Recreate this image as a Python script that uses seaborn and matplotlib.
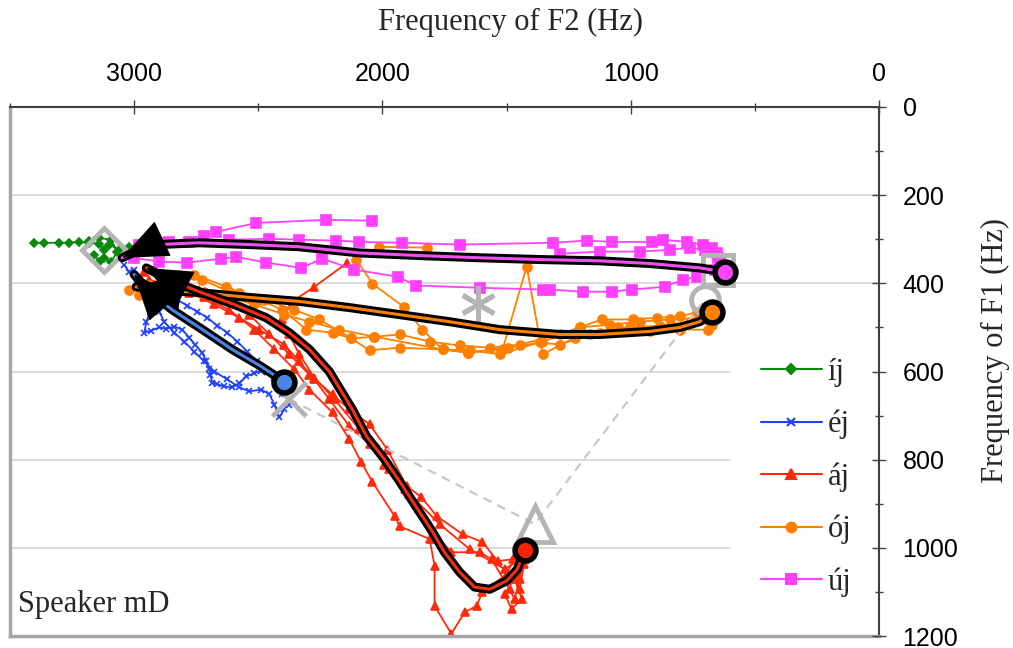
import matplotlib
matplotlib.use("Agg")
import matplotlib.pyplot as plt
import matplotlib.patheffects as pe
from matplotlib.lines import Line2D
from matplotlib.ticker import MultipleLocator
import pandas as pd
import seaborn as sns

VOWELS = ["íj", "éj", "áj", "ój", "új"]
COLORS = {"íj": "#0A8A0A", "éj": "#2040FF", "áj": "#FF2A0A", "ój": "#FF8000", "új": "#FF40FF"}
MARKERS = {"íj": "D", "éj": "x", "áj": "^", "ój": "o", "új": "s"}
MSIZE = {"íj": 4.5, "éj": 5, "áj": 6, "ój": 6.5, "új": 6.5}

# raw trials: F2 (Hz), F1 (Hz)
IJ_F2 = [[3403, 3363, 3302, 3262, 3222, 3181, 3141, 3121, 3101, 3060, 3020, 2980, 2939],
         [3181, 3141, 3093, 3068, 3093, 3121, 3141, 3161]]
IJ_F1 = [[308, 308, 308, 308, 306, 308, 310, 324, 312, 324, 317, 312, 310],
         [305, 297, 301, 328, 351, 342, 351, 335]]

EJ_F2 = [[2375, 2391, 2411, 2435, 2464, 2488, 2516, 2548, 2576, 2605, 2637, 2665, 2685, 2693, 2697, 2710,
          2726, 2754, 2778, 2806, 2838, 2871, 2899, 2931, 2959, 2951, 2935, 2947, 2964, 2988, 3020, 3040],
         [2403, 2431, 2464, 2504, 2544, 2584, 2625, 2665, 2705, 2746, 2786, 2826, 2867, 2907, 2939, 2972, 3000],
         [2395, 2415, 2435, 2455, 2488, 2536, 2576, 2625, 2677, 2718, 2758, 2798, 2838, 2879, 2899, 2931, 2959]]
EJ_F1 = [[675, 652, 632, 614, 602, 598, 604, 611, 627, 636, 634, 629, 625, 609, 595, 577,
          557, 539, 523, 505, 498, 503, 500, 507, 512, 487, 464, 441, 421, 401, 374, 358],
         [652, 629, 600, 577, 555, 532, 512, 496, 478, 464, 451, 437, 426, 414, 403, 387, 369],
         [686, 704, 675, 652, 641, 645, 636, 618, 600, 577, 555, 532, 512, 487, 464, 441, 414]]

AJ_F2 = [[1435, 1476, 1536, 1597, 1677, 1782, 1843, 1903, 1980, 2052, 2133, 2201, 2294, 2375, 2455, 2536,
          2637, 2738, 2859, 2959],
         [1447, 1500, 1597, 1621, 1669, 1722, 1790, 1790, 1810, 1931, 1951, 2040, 2085, 2133, 2201, 2294,
          2355, 2435, 2516, 2617, 2718, 2818, 2939],
         [1427, 1447, 1468, 1488, 1560, 1609, 1722, 1798, 1851, 1911, 1972, 2052, 2133, 2214, 2274, 2335,
          2395, 2496, 2576, 2677, 2778, 2899],
         [1439, 1508, 1649, 1770, 1891, 1992, 2093, 2193, 2274, 2335, 2375, 2403, 2363, 2274, 2141],
         [1427, 1447, 1468, 1439, 1480, 1508, 1456, 1431]]
AJ_F1 = [[992, 1026, 1030, 987, 969, 928, 885, 860, 777, 720, 686, 652, 607, 561, 516, 471,
          437, 414, 392, 374],
         [998, 1060, 1100, 1132, 1146, 1195, 1132, 1041, 980, 951, 928, 851, 806, 754, 693, 641,
          595, 550, 505, 460, 432, 410, 392],
         [1003, 1071, 1116, 1094, 1026, 1010, 1010, 962, 912, 867, 822, 765, 724, 663, 618, 577,
          539, 505, 478, 448, 421, 403],
         [1026, 1048, 1003, 946, 878, 811, 731, 663, 614, 561, 516, 482, 441, 408, 353],
         [1026, 1094, 1071, 1116, 1139, 1105, 1060, 1037]]

OJ_F2 = [[681, 734, 802, 895, 992, 1117, 1206, 1359, 1496, 1657, 1758, 1839, 1915, 2040, 2105, 2012, 1822],
         [673, 762, 883, 1004, 1125, 1226, 1355, 1419, 1516, 1657, 1758, 2032, 2125, 2201, 2306, 2403,
          2496, 2617, 2726, 2818, 2939, 3020],
         [689, 802, 923, 1052, 1165, 1286, 1367, 1528, 1649, 1758, 1931, 2052, 2125, 2254, 2355, 2476,
          2576, 2629, 2758, 2879, 2980],
         [673, 722, 843, 964, 1085, 1206, 1286, 1447, 1568, 1689, 1810, 1931, 2032, 2173, 2294, 2395,
          2516, 2617, 2718, 2838, 2939]]
OJ_F1 = [[478, 466, 475, 478, 482, 482, 500, 534, 546, 557, 550, 505, 453, 401, 346, 317, 319],
         [494, 487, 496, 500, 512, 523, 561, 362, 550, 557, 550, 521, 525, 512, 505, 460,
          437, 419, 392, 380, 403, 414],
         [505, 505, 509, 498, 516, 539, 534, 561, 552, 550, 546, 552, 525, 482, 460, 437,
          421, 408, 380, 396, 426],
         [464, 478, 482, 487, 494, 500, 516, 539, 546, 541, 532, 516, 521, 505, 487, 471,
          448, 432, 419, 414, 426]]

UJ_F2 = [[2040, 2226, 2508, 2669, 2718, 2859, 2980],
         [641, 653, 673, 710, 774, 871, 915, 1077, 1177, 1314, 1689, 1923, 2093, 2189, 2335, 2455,
          2617, 2778, 2899, 2980],
         [641, 661, 734, 790, 863, 996, 1077, 1193, 1327, 1355, 1609, 1863, 1939, 2113, 2242, 2326,
          2468, 2589, 2649, 2786, 2899, 3000],
         [649, 702, 762, 843, 964, 1125, 1286]]
UJ_F1 = [[258, 256, 263, 283, 292, 306, 319],
         [351, 331, 319, 312, 306, 301, 306, 306, 303, 308, 312, 308, 306, 303, 301, 299,
          301, 306, 308, 312],
         [380, 369, 385, 392, 408, 414, 419, 419, 414, 414, 410, 405, 385, 369, 344, 365,
          353, 340, 344, 353, 351, 342],
         [342, 324, 319, 324, 328, 328, 333]]

# mean trajectories (start -> end)
EJ_MEAN_F2 = [2395, 2496, 2605, 2738, 2847, 2939, 3000]
EJ_MEAN_F1 = [623, 586, 550, 500, 460, 419, 380]
AJ_MEAN_F2 = [1427, 1456, 1500, 1568, 1629, 1689, 1750, 1798, 1871, 1931, 1992, 2064, 2121, 2214,
              2294, 2375, 2468, 2597, 2738, 2859, 2951]
AJ_MEAN_F1 = [1005, 1048, 1075, 1094, 1089, 1055, 1010, 964, 901, 849, 799, 747, 686, 600,
              550, 512, 478, 448, 419, 392, 365]
OJ_MEAN_F2 = [673, 722, 802, 923, 1125, 1286, 1528, 1730, 1931, 2133, 2335, 2536, 2738, 2899, 2992]
OJ_MEAN_F1 = [466, 487, 500, 509, 516, 516, 505, 487, 471, 455, 441, 432, 421, 414, 408]
UJ_MEAN_F2 = [621, 722, 923, 1125, 1367, 1609, 1851, 2093, 2335, 2536, 2738, 2899, 2980, 3048]
UJ_MEAN_F1 = [374, 365, 355, 349, 346, 342, 337, 331, 317, 312, 308, 312, 324, 342]

# monophthong reference targets (grey)
TARGET_F2 = [3121, 2375, 1387, 702, 649, 1617]
TARGET_F1 = [324, 663, 946, 437, 369, 448]
TARGET_MARKERS = ["D", "x", "^", "o", "s", (6, 2, 0)]
TARGET_MS = [22, 24, 26, 20, 22, 26]
DASHED_IDX = [1, 2, 3]

sns.set_theme(style="white")
plt.rcParams["font.family"] = ["Liberation Sans", "DejaVu Sans"]
SERIF = ["Liberation Serif", "DejaVu Serif"]

rows = []
for vowel, f2s, f1s in zip(VOWELS, [IJ_F2, EJ_F2, AJ_F2, OJ_F2, UJ_F2], [IJ_F1, EJ_F1, AJ_F1, OJ_F1, UJ_F1]):
    for t, (xs, ys) in enumerate(zip(f2s, f1s)):
        for x, y in zip(xs, ys):
            rows.append((vowel, f"{vowel}{t}", x, y))
df = pd.DataFrame(rows, columns=["vowel", "trial", "F2", "F1"])

fig = plt.figure(figsize=(10.13, 6.48), dpi=100)
ax = fig.add_axes([10 / 1013, 12 / 648, 869 / 1013, 529 / 648])

for vowel in VOWELS:
    sub = df[df["vowel"] == vowel]
    c = COLORS[vowel]
    sns.lineplot(data=sub, x="F2", y="F1", units="trial", estimator=None, sort=False,
                 color=c, marker=MARKERS[vowel], markersize=MSIZE[vowel],
                 markeredgecolor=c, markerfacecolor=c, markeredgewidth=1.2,
                 lw=1.3, legend=False, ax=ax, zorder=2)

# grey targets and dashed connector
ax.plot([TARGET_F2[i] for i in DASHED_IDX], [TARGET_F1[i] for i in DASHED_IDX],
        ls=(0, (4, 3)), color="#C8C8C8", lw=1.6, zorder=3)
for x, y, m, ms in zip(TARGET_F2, TARGET_F1, TARGET_MARKERS, TARGET_MS):
    ax.plot([x], [y], marker=m, ms=ms, mfc="none", mec="#B4B4B4", mew=3.5, ls="none", zorder=4)

# mean trajectories with arrows
means = [
    (UJ_MEAN_F2, UJ_MEAN_F1, "#F050F0", "#FF44FF"),
    (OJ_MEAN_F2, OJ_MEAN_F1, "#FF8000", "#FF8000"),
    (AJ_MEAN_F2, AJ_MEAN_F1, "#F03010", "#FF2000"),
    (EJ_MEAN_F2, EJ_MEAN_F1, "#4A86E8", "#4A86E8"),
]
for f2, f1, col, fill in means:
    ax.plot(f2, f1, color=col, lw=2.2, solid_capstyle="round", zorder=5,
            path_effects=[pe.Stroke(linewidth=6.5, foreground="black"), pe.Normal()])
    ax.annotate("", xy=(f2[-1], f1[-1]), xytext=(f2[-2], f1[-2]), zorder=6,
                arrowprops=dict(arrowstyle="-|>,head_length=0.8,head_width=0.34",
                                mutation_scale=38, color="black", lw=1, shrinkA=0, shrinkB=0))
    ax.plot([f2[0]], [f1[0]], marker="o", ms=15, mfc=fill, mec="black", mew=4, zorder=7)

ax.set_xlim(3500, 0)
ax.set_ylim(1200, 0)
ax.xaxis.tick_top()
ax.xaxis.set_label_position("top")
ax.yaxis.tick_right()
ax.yaxis.set_label_position("right")
ax.xaxis.set_major_locator(MultipleLocator(1000))
ax.xaxis.set_minor_locator(MultipleLocator(500))
ax.yaxis.set_major_locator(MultipleLocator(200))
ax.yaxis.set_minor_locator(MultipleLocator(100))
ax.tick_params(which="major", direction="inout", length=10, width=1, color="#404040",
               labelsize=18, labelcolor="black")
ax.tick_params(which="minor", direction="inout", length=6, width=1, color="#404040")
ax.tick_params(axis="x", which="both", top=True, bottom=False, pad=10)
ax.tick_params(axis="y", which="both", right=True, left=False, pad=12)

# horizontal gridlines at the major F1 ticks, kept below the data and legend
ax.grid(False)
for yv in ax.get_yticks():
    if 0 < yv < 1200:
        ax.axhline(yv, color="#D9D9D9", lw=1.3, zorder=1)

for side in ["top", "right"]:
    ax.spines[side].set_color("#404040")
    ax.spines[side].set_linewidth(1.5)
for side in ["left", "bottom"]:
    ax.spines[side].set_color("#A6A6A6")
    ax.spines[side].set_linewidth(2.5)

ax.set_xlabel("Frequency of F2 (Hz)", fontsize=22, family=SERIF)
ax.xaxis.set_label_coords(0.5765, 1.1607)
ax.xaxis.label.set_va("center")
ax.set_ylabel("Frequency of F1 (Hz)", fontsize=22, family=SERIF, rotation=90)
ax.yaxis.set_label_coords(1.1335, 0.5406)
ax.yaxis.label.set_va("center")
ax.yaxis.label.set_ha("center")

ax.text(0.0092, 0.045, "Speaker mD", transform=ax.transAxes, fontsize=22,
        family=SERIF, va="baseline", ha="left")

handles = [Line2D([], [], color=COLORS[v], marker=MARKERS[v], ms=MSIZE[v] + 0.5,
                  mec=COLORS[v], mfc=COLORS[v], mew=1.5, lw=1.5) for v in VOWELS]
leg = ax.legend(handles, VOWELS, loc="center left", bbox_to_anchor=(0.8285, 0.30),
                frameon=True, facecolor="white", edgecolor="none", framealpha=1,
                fancybox=False, prop={"family": SERIF, "size": 22}, handlelength=2.0,
                handletextpad=0.2, labelspacing=0.75, borderpad=1.0, borderaxespad=0)
leg.set_zorder(10)

# keep the right spine and its ticks above the legend box
for side in ["right", "bottom"]:
    ax.spines[side].set_zorder(12)
ax.yaxis.set_zorder(12)

fig.savefig("out.png", dpi=100)
